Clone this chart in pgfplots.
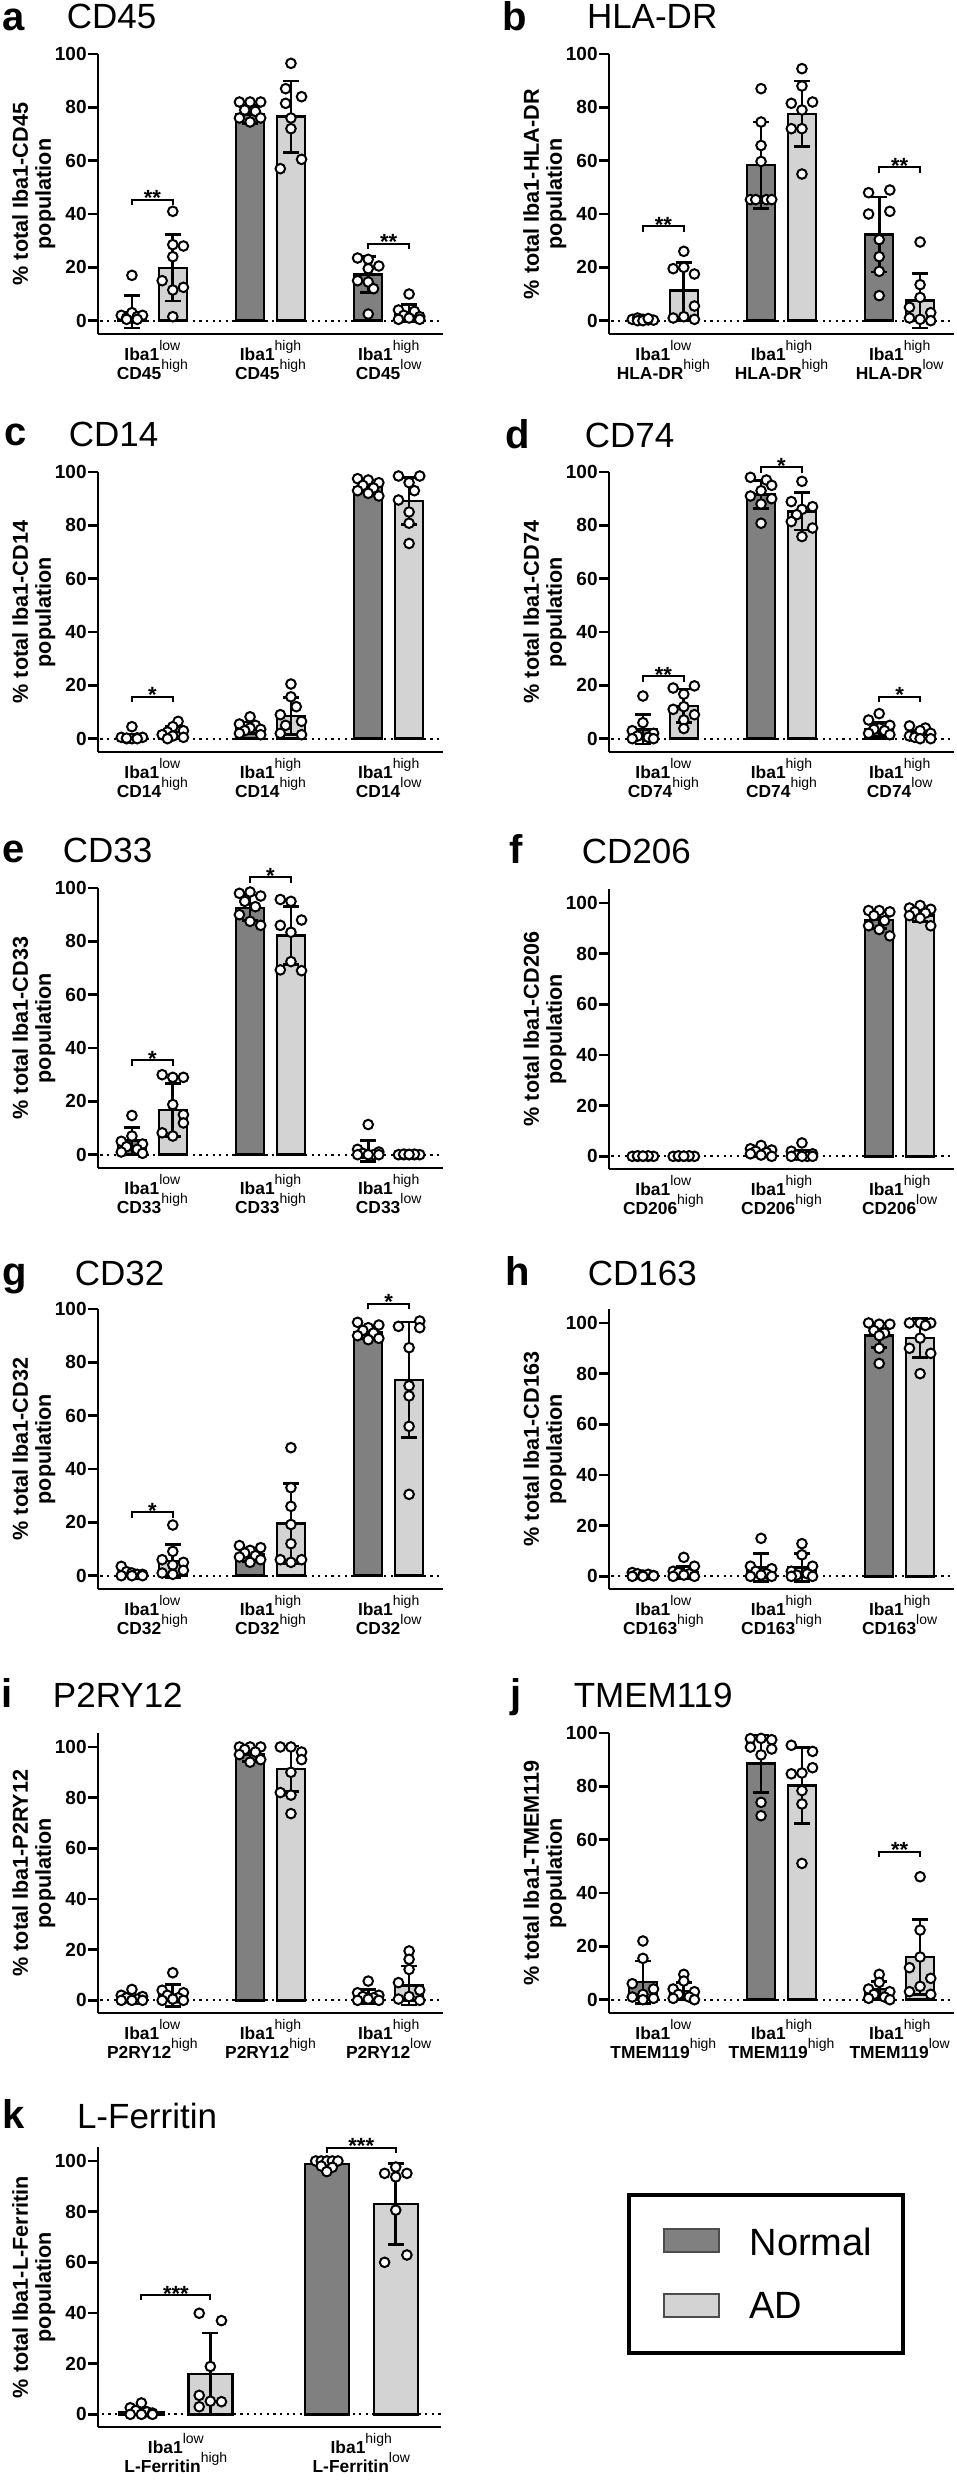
\documentclass[border=0pt]{standalone}
\usepackage{pgfplots}
\pgfplotsset{compat=1.18}
\usepackage{fontspec}
\setmainfont{Liberation Sans}
\definecolor{ngray}{RGB}{128,128,128}
\definecolor{agray}{RGB}{211,211,211}
\newcommand{\fs}[2]{\fontsize{#1}{#2}\selectfont}
\newcommand{\sps}[1]{\raisebox{4.8pt}[0pt][0pt]{\fs{7}{7}\mdseries #1}}
\newcommand{\lab}[3]{Iba1\sps{#1}\\#2\sps{#3}}
\newcommand{\brk}[6]{\draw[line width=0.9pt] (axis cs:#1,#4) -- (axis cs:#1,#3) -- (axis cs:#2,#3) -- (axis cs:#2,#4);
  \node[font=\bfseries\fs{11}{11}, anchor=base, inner sep=0pt, yshift=-3pt] at (axis cs:#6,#3) {#5};}
\newcommand{\zl}[2]{\draw[line width=1.1pt, dash pattern=on 1.1pt off 2.2pt] (axis cs:#1,0) -- (axis cs:#2,0);}
\pgfplotsset{
 panel/.style={
  anchor=south west, scale only axis, width=172.5pt, height=140pt,
  xmin=-0.46, xmax=2.46, ymin=-5, ymax=100, xtick={0,1,2},
  ytick={0,20,40,60,80,100}, clip=false,
  axis lines=left, axis line style={-, line width=1.35pt},
  every tick/.style={black, line width=1.35pt}, xtick style={draw=none},
  tick align=outside, major tick length=5pt,
  /pgf/number format/assume math mode=true,
  yticklabel style={font=\bfseries\fs{9.5}{10}, inner sep=0.5pt},
  xticklabel style={font=\bfseries\fs{8.7}{9.7}, align=center, anchor=north, inner sep=0pt, yshift=-1.5pt},
  ylabel style={font=\bfseries\fs{10.8}{11.5}, align=center, at={(axis description cs:-0.186,0.5)}, anchor=center},
 },
 tall/.style={ymax=105.5},
 nbar/.style={ybar, bar width=0.237, bar shift=0pt, fill=ngray, draw=black, line width=1.2pt},
 abar/.style={nbar, fill=agray},
 pts/.style={only marks, mark=*, mark size=2.4pt, mark options={fill=white, draw=black, line width=1pt}},
 sd/.style={draw=none, mark=none, forget plot, error bars/.cd, y dir=both, y explicit,
   error bar style={line width=1.35pt, draw=black, solid}, error mark=-,
   error mark options={rotate=90, line width=1.35pt, draw=black, solid, mark size=4pt}},
}
\begin{document}
\begin{tikzpicture}
\path[use as bounding box] (0,0) rectangle (478.5pt,-1240pt);
\tikzset{lett/.style={anchor=base west, inner sep=0pt, font=\bfseries\fs{20}{20}},
         ttl/.style={anchor=base west, inner sep=0pt, font=\fs{17.5}{17.5}}}
% ---------------- a
\node[lett] at (1pt,-15pt) {a};
\node[ttl] at (33.2pt,-14pt) {CD45};
\begin{axis}[panel, at={(49pt,-167pt)}, ylabel={\% total Iba1-CD45\\population},
  xticklabels={{\lab{low}{CD45}{high}},{\lab{high}{CD45}{high}},{\lab{high}{CD45}{low}}}]
\zl{-0.44}{2.46}
\addplot[nbar] coordinates {(-0.173,3.3) (0.827,77.3) (1.827,17.3)};
\addplot[abar] coordinates {(0.173,19.8) (1.173,76.5) (2.173,2.9)};
\addplot[pts] coordinates {(-0.173,17) (-0.263,2) (-0.218,1) (-0.173,3) (-0.128,1.5) (-0.083,2) (-0.218,0.5) (-0.128,0.5)
 (0.173,41) (0.173,28.5) (0.263,28) (0.173,24) (0.083,15) (0.263,12.5) (0.173,11.5) (0.173,1.5)
 (0.737,82) (0.827,82) (0.917,82) (0.782,79) (0.872,78.5) (0.737,76) (0.917,76) (0.827,74.5)
 (1.173,96.5) (1.128,87) (1.263,84) (1.128,81.5) (1.173,76) (1.173,72) (1.263,60.5) (1.083,57)
 (1.737,23.5) (1.827,23) (1.917,20.5) (1.827,19.5) (1.737,15) (1.827,14.5) (1.872,12) (1.827,2.5)
 (2.173,10) (2.083,4) (2.218,3.5) (2.128,2) (2.263,1.5) (2.173,1) (2.083,0.5) (2.263,0.5)};
\addplot[sd] coordinates {(-0.173,3.3) +- (0,6.1) (0.827,77.3) +- (0,3.3) (1.827,17.3) +- (0,6.8)
 (0.173,19.8) +- (0,12.4) (1.173,76.5) +- (0,13.4) (2.173,2.9) +- (0,3.1)};
\brk{-0.173}{0.173}{45.4}{43.4}{**}{0}
\brk{1.827}{2.173}{28.9}{26.9}{**}{2}
\end{axis}
% ---------------- b
\node[lett] at (251pt,-15pt) {b};
\node[ttl] at (293.3pt,-14pt) {HLA-DR};
\begin{axis}[panel, at={(304.5pt,-167pt)}, ylabel={\% total Iba1-HLA-DR\\population},
  xticklabels={{\lab{low}{HLA-DR}{high}},{\lab{high}{HLA-DR}{high}},{\lab{high}{HLA-DR}{low}}}]
\zl{-0.44}{2.46}
\addplot[nbar] coordinates {(-0.173,0.5) (0.827,58.3) (1.827,32.3)};
\addplot[abar] coordinates {(0.173,11.3) (1.173,77.6) (2.173,7.5)};
\addplot[pts] coordinates {(-0.263,0.5) (-0.218,1) (-0.173,0.5) (-0.128,0.3) (-0.083,0.2) (-0.218,0) (-0.173,0) (-0.128,0.8)
 (0.173,26) (0.083,19.5) (0.173,20) (0.263,17.5) (0.263,5.5) (0.083,1) (0.173,1.5) (0.263,0.5)
 (0.827,87) (0.827,74.5) (0.827,65.7) (0.827,59.7) (0.737,45.4) (0.782,45.4) (0.872,45.4) (0.917,45.4)
 (1.173,94.5) (1.173,88) (1.083,81.5) (1.263,82) (1.173,79) (1.083,72) (1.173,72) (1.173,55)
 (1.737,48) (1.917,49) (1.917,41) (1.737,40) (1.827,30.4) (1.827,24) (1.827,18.5) (1.827,9.4)
 (2.173,29.5) (2.173,13.5) (2.173,8.7) (2.083,5) (2.263,3) (2.083,1) (2.173,0.5) (2.263,0)};
\addplot[sd] coordinates {(-0.173,0.5) +- (0,0.5) (0.827,58.3) +- (0,16.2) (1.827,32.3) +- (0,14.1)
 (0.173,11.3) +- (0,10.4) (1.173,77.6) +- (0,12.3) (2.173,7.5) +- (0,10.3)};
\brk{-0.173}{0.173}{35.4}{33.4}{**}{0}
\brk{1.827}{2.173}{57.5}{55.5}{**}{2}
\end{axis}
% ---------------- c
\node[lett] at (2pt,-222.5pt) {c};
\node[ttl] at (34.2pt,-223pt) {CD14};
\begin{axis}[panel, at={(49pt,-376pt)}, ylabel={\% total Iba1-CD14\\population},
  xticklabels={{\lab{low}{CD14}{high}},{\lab{high}{CD14}{high}},{\lab{high}{CD14}{low}}}]
\zl{-0.44}{2.46}
\addplot[nbar] coordinates {(-0.173,0.5) (0.827,4.1) (1.827,94.3)};
\addplot[abar] coordinates {(0.173,2.5) (1.173,8.5) (2.173,89.2)};
\addplot[pts] coordinates {(-0.173,4.5) (-0.263,0.5) (-0.218,0) (-0.173,0) (-0.128,0.3) (-0.083,0.5) (-0.218,0.2) (-0.128,0)
 (0.218,6.5) (0.173,4.5) (0.263,3) (0.128,2.5) (0.083,1.5) (0.173,1) (0.263,0.5) (0.128,0)
 (0.827,8.2) (0.737,5.5) (0.872,5) (0.827,4) (0.917,3.5) (0.782,3) (0.737,2) (0.917,1.5)
 (1.173,20.5) (1.173,15.7) (1.218,12) (1.083,9) (1.263,6.5) (1.128,5) (1.083,2) (1.263,1.5)
 (1.737,97.5) (1.827,97) (1.917,96) (1.782,95) (1.872,94) (1.737,93) (1.827,92) (1.917,91)
 (2.083,98.5) (2.263,98.5) (2.173,96) (2.218,93) (2.083,89.5) (2.173,85) (2.173,80.8) (2.173,73.2)};
\addplot[sd] coordinates {(-0.173,0.5) +- (0,1) (0.827,4.1) +- (0,2.2) (1.827,94.3) +- (0,1.6)
 (0.173,2.5) +- (0,2) (1.173,8.5) +- (0,7) (2.173,89.2) +- (0,8.8)};
\brk{-0.173}{0.173}{15.7}{13.7}{*}{0}
\end{axis}
% ---------------- d
\node[lett] at (252.5pt,-224pt) {d};
\node[ttl] at (292.2pt,-223.5pt) {CD74};
\begin{axis}[panel, at={(304.5pt,-376pt)}, ylabel={\% total Iba1-CD74\\population},
  xticklabels={{\lab{low}{CD74}{high}},{\lab{high}{CD74}{high}},{\lab{high}{CD74}{low}}}]
\zl{-0.44}{2.46}
\addplot[nbar] coordinates {(-0.173,3.5) (0.827,91.5) (1.827,3.5)};
\addplot[abar] coordinates {(0.173,12.3) (1.173,85.2) (2.173,1.5)};
\addplot[pts] coordinates {(-0.173,16) (-0.173,6) (-0.263,3) (-0.083,2) (-0.218,1) (-0.128,0.5) (-0.263,0) (-0.083,0)
 (0.263,19.8) (0.083,19) (0.173,16.7) (0.173,12) (0.083,11) (0.263,9) (0.173,7) (0.173,3.8)
 (0.737,98) (0.872,97) (0.917,95) (0.827,93) (0.737,91) (0.917,90) (0.827,88) (0.827,80.8)
 (1.173,96.5) (1.083,88.9) (1.263,87) (1.173,86) (1.128,84) (1.083,81.4) (1.263,79) (1.173,75.8)
 (1.827,9.4) (1.737,7) (1.917,5) (1.827,4) (1.782,3.5) (1.872,3) (1.737,2) (1.917,1.5)
 (2.083,4.8) (2.218,4) (2.173,3) (2.263,2) (2.083,1) (2.128,0.5) (2.173,0) (2.263,0)};
\addplot[sd] coordinates {(-0.173,3.5) +- (0,5.5) (0.827,91.5) +- (0,5.2) (1.827,3.5) +- (0,2.5)
 (0.173,12.3) +- (0,6.3) (1.173,85.2) +- (0,7) (2.173,1.5) +- (0,1.5)};
\brk{-0.173}{0.173}{23.4}{21.4}{**}{0}
\brk{0.827}{1.173}{101.8}{99.8}{*}{1}
\brk{1.827}{2.173}{15.7}{13.7}{*}{2}
\end{axis}
% ---------------- e
\node[lett] at (1pt,-431pt) {e};
\node[ttl] at (31.2pt,-431pt) {CD33};
\begin{axis}[panel, at={(49pt,-584pt)}, ylabel={\% total Iba1-CD33\\population},
  xticklabels={{\lab{low}{CD33}{high}},{\lab{high}{CD33}{high}},{\lab{high}{CD33}{low}}}]
\zl{-0.44}{2.46}
\addplot[nbar] coordinates {(-0.173,5.3) (0.827,92.6) (1.827,1.4)};
\addplot[abar] coordinates {(0.173,16.7) (1.173,82.2) (2.173,0)};
\addplot[pts] coordinates {(-0.173,14.7) (-0.173,7) (-0.263,5) (-0.083,4) (-0.218,3) (-0.128,2) (-0.263,1) (-0.083,0.5)
 (0.083,30) (0.263,29) (0.173,29) (0.173,18.8) (0.263,15) (0.263,11.9) (0.083,8.2) (0.173,7)
 (0.737,98) (0.827,98.5) (0.917,97) (0.782,95) (0.872,93) (0.737,90) (0.827,87.5) (0.917,86)
 (1.083,95.7) (1.173,95) (1.263,88) (1.083,86) (1.173,83.4) (1.173,72.4) (1.083,69.3) (1.263,69)
 (1.827,11.3) (1.737,2) (1.917,1) (1.782,0.5) (1.872,0) (1.827,0) (1.737,0) (1.917,0)
 (2.083,0) (2.128,0) (2.173,0) (2.218,0) (2.263,0) (2.128,0.2) (2.218,0.2) (2.173,0.1)};
\addplot[sd] coordinates {(-0.173,5.3) +- (0,5) (0.827,92.6) +- (0,4.8) (1.827,1.4) +- (0,3.9)
 (0.173,16.7) +- (0,10) (1.173,82.2) +- (0,10.8) (2.173,0) +- (0,0.2)};
\brk{-0.173}{0.173}{35.4}{33.4}{*}{0}
\brk{0.827}{1.173}{104}{102}{*}{1}
\end{axis}
% ---------------- f
\node[lett] at (254.5pt,-431.5pt) {f};
\node[ttl] at (290.7pt,-431.5pt) {CD206};
\begin{axis}[panel, tall, at={(304.5pt,-584.5pt)}, ylabel={\% total Iba1-CD206\\population},
  xticklabels={{\lab{low}{CD206}{high}},{\lab{high}{CD206}{high}},{\lab{high}{CD206}{low}}}]
\zl{-0.44}{2.46}
\addplot[nbar] coordinates {(-0.173,0) (0.827,2.1) (1.827,93.2)};
\addplot[abar] coordinates {(0.173,0) (1.173,1) (2.173,95.1)};
\addplot[pts] coordinates {(-0.263,0) (-0.218,0) (-0.173,0) (-0.128,0) (-0.083,0) (-0.218,0.2) (-0.128,0.2) (-0.173,0.1)
 (0.083,0) (0.128,0) (0.173,0) (0.218,0) (0.263,0) (0.128,0.2) (0.218,0.2) (0.173,0.1)
 (0.827,4.3) (0.737,3) (0.917,2.5) (0.782,2) (0.872,1.5) (0.737,1) (0.827,0.5) (0.917,0)
 (1.173,5.3) (1.083,2) (1.263,1) (1.128,0.5) (1.218,0) (1.173,0) (1.083,0) (1.263,0)
 (1.737,97) (1.827,97) (1.917,96.5) (1.782,95) (1.872,93) (1.737,91) (1.827,89.5) (1.917,87)
 (2.173,99) (2.083,98) (2.263,97.5) (2.128,96.5) (2.218,96) (2.083,95) (2.173,94) (2.263,91)};
\addplot[sd] coordinates {(-0.173,0) +- (0,0.2) (0.827,2.1) +- (0,1) (1.827,93.2) +- (0,3.4)
 (0.173,0) +- (0,0.2) (1.173,1) +- (0,1.5) (2.173,95.1) +- (0,2.5)};
\end{axis}
% ---------------- g
\node[lett] at (1pt,-642.5pt) {g};
\node[ttl] at (37.2pt,-642.5pt) {CD32};
\begin{axis}[panel, at={(49pt,-794.5pt)}, ylabel={\% total Iba1-CD32\\population},
  xticklabels={{\lab{low}{CD32}{high}},{\lab{high}{CD32}{high}},{\lab{high}{CD32}{low}}}]
\zl{-0.44}{2.46}
\addplot[nbar] coordinates {(-0.173,0.5) (0.827,7.9) (1.827,91.2)};
\addplot[abar] coordinates {(0.173,5.4) (1.173,19.6) (2.173,73.4)};
\addplot[pts] coordinates {(-0.263,3.5) (-0.218,1.5) (-0.173,1) (-0.128,0.5) (-0.083,0.5) (-0.263,0) (-0.173,0) (-0.083,0)
 (0.173,19) (0.173,9.1) (0.083,6) (0.263,5) (0.173,4) (0.263,2) (0.083,1) (0.173,0.5)
 (0.737,11.3) (0.917,10.5) (0.827,9.5) (0.782,8.5) (0.872,7.5) (0.737,7) (0.917,6) (0.827,5)
 (1.173,48) (1.173,33) (1.173,26) (1.173,19.2) (1.173,12) (1.083,6) (1.263,6) (1.173,5)
 (1.737,95) (1.917,94) (1.827,93) (1.782,92) (1.872,91) (1.737,90) (1.917,89) (1.827,88.5)
 (2.263,95.5) (2.263,93) (2.083,93.5) (2.173,85.5) (2.173,71.2) (2.173,67.4) (2.173,56) (2.173,30.5)};
\addplot[sd] coordinates {(-0.173,0.5) +- (0,1) (0.827,7.9) +- (0,2.5) (1.827,91.2) +- (0,2.3)
 (0.173,5.4) +- (0,6.3) (1.173,19.6) +- (0,15.1) (2.173,73.4) +- (0,21.7)};
\brk{-0.173}{0.173}{23.8}{21.8}{*}{0}
\brk{1.827}{2.173}{101.9}{99.9}{*}{2}
\end{axis}
% ---------------- h
\node[lett] at (252.5pt,-642.5pt) {h};
\node[ttl] at (293.7pt,-642.5pt) {CD163};
\begin{axis}[panel, tall, at={(304.5pt,-794.5pt)}, ylabel={\% total Iba1-CD163\\population},
  xticklabels={{\lab{low}{CD163}{high}},{\lab{high}{CD163}{high}},{\lab{high}{CD163}{low}}}]
\zl{-0.44}{2.46}
\addplot[nbar] coordinates {(-0.173,0.5) (0.827,3.5) (1.827,95.1)};
\addplot[abar] coordinates {(0.173,1.5) (1.173,3.5) (2.173,94.1)};
\addplot[pts] coordinates {(-0.263,1.5) (-0.218,1) (-0.173,0.5) (-0.128,0.8) (-0.083,0.3) (-0.263,0) (-0.173,0) (-0.083,0.2)
 (0.173,7.5) (0.263,4) (0.083,2) (0.128,1.5) (0.218,1) (0.173,0.5) (0.083,0) (0.263,0)
 (0.827,15) (0.737,4) (0.917,3) (0.782,2) (0.872,1) (0.827,0.5) (0.737,0) (0.917,0)
 (1.173,12.9) (1.173,8.5) (1.263,4) (1.083,2) (1.218,1) (1.128,0.5) (1.263,0) (1.083,0)
 (1.737,100) (1.827,99.5) (1.917,99.5) (1.782,97) (1.872,96) (1.827,95) (1.827,90) (1.827,84)
 (2.083,100) (2.173,100) (2.263,100) (2.218,99) (2.173,94) (2.083,90) (2.263,88) (2.173,80)};
\addplot[sd] coordinates {(-0.173,0.5) +- (0,0.7) (0.827,3.5) +- (0,5.4) (1.827,95.1) +- (0,4.9)
 (0.173,1.5) +- (0,2.5) (1.173,3.5) +- (0,5.4) (2.173,94.1) +- (0,7.7)};
\end{axis}
% ---------------- i
\node[lett] at (0.5pt,-853.5pt) {i};
\node[ttl] at (26.3pt,-853.5pt) {P2RY12};
\begin{axis}[panel, tall, at={(49pt,-1006.5pt)}, ylabel={\% total Iba1-P2RY12\\population},
  xticklabels={{\lab{low}{P2RY12}{high}},{\lab{high}{P2RY12}{high}},{\lab{high}{P2RY12}{low}}}]
\zl{-0.44}{2.46}
\addplot[nbar] coordinates {(-0.173,0.5) (0.827,97.1) (1.827,1.5)};
\addplot[abar] coordinates {(0.173,2) (1.173,91.4) (2.173,5.9)};
\addplot[pts] coordinates {(-0.173,4.3) (-0.263,2) (-0.083,1.5) (-0.218,1) (-0.128,0.5) (-0.263,0) (-0.173,0) (-0.083,0)
 (0.173,10.9) (0.083,4) (0.263,3) (0.128,2) (0.218,1) (0.173,0.5) (0.083,0) (0.263,0)
 (0.737,100) (0.827,100) (0.917,100) (0.782,99) (0.872,98) (0.737,97) (0.917,95) (0.827,94)
 (1.083,100) (1.173,100) (1.263,98) (1.263,95) (1.173,90) (1.083,82) (1.173,81) (1.173,73.7)
 (1.827,7.6) (1.737,3) (1.917,2) (1.782,1.5) (1.872,1) (1.827,0.5) (1.737,0) (1.917,0)
 (2.173,19.5) (2.173,16.2) (2.173,12.2) (2.083,7) (2.263,4) (2.173,1.5) (2.083,0.5) (2.263,0)};
\addplot[sd] coordinates {(-0.173,0.5) +- (0,1) (0.827,97.1) +- (0,2.8) (1.827,1.5) +- (0,2.8)
 (0.173,2) +- (0,4.3) (1.173,91.4) +- (0,9) (2.173,5.9) +- (0,7.7)};
\end{axis}
% ---------------- j
\node[lett] at (255pt,-853.5pt) {j};
\node[ttl] at (286.7pt,-853.5pt) {TMEM119};
\begin{axis}[panel, at={(304.5pt,-1006.5pt)}, ylabel={\% total Iba1-TMEM119\\population},
  xticklabels={{\lab{low}{TMEM119}{high}},{\lab{high}{TMEM119}{high}},{\lab{high}{TMEM119}{low}}}]
\zl{-0.44}{2.46}
\addplot[nbar] coordinates {(-0.173,6.6) (0.827,88.5) (1.827,4.1)};
\addplot[abar] coordinates {(0.173,3.3) (1.173,80.3) (2.173,16)};
\addplot[pts] coordinates {(-0.173,22) (-0.173,15.5) (-0.263,6) (-0.083,4) (-0.173,2) (-0.263,1) (-0.083,0.5) (-0.173,0)
 (0.173,9.5) (0.173,7) (0.083,4) (0.263,3) (0.128,2) (0.218,1) (0.083,0.5) (0.263,0)
 (0.737,97.9) (0.827,98) (0.917,97.5) (0.737,94.7) (0.917,94) (0.827,91.8) (0.827,74) (0.827,69)
 (1.083,95.4) (1.263,93.1) (1.083,84.7) (1.263,87) (1.173,85) (1.173,78.4) (1.173,73.4) (1.173,51.1)
 (1.827,9.5) (1.827,6.5) (1.737,4) (1.917,3) (1.782,2) (1.872,1) (1.737,0.5) (1.917,0)
 (2.173,46.1) (2.173,26.1) (2.173,16) (2.083,12) (2.263,8) (2.173,5) (2.083,3) (2.263,2)};
\addplot[sd] coordinates {(-0.173,6.6) +- (0,7.9) (0.827,88.5) +- (0,10.8) (1.827,4.1) +- (0,2.8)
 (0.173,3.3) +- (0,3.1) (1.173,80.3) +- (0,14.2) (2.173,16) +- (0,14.1)};
\brk{1.827}{2.173}{55.5}{53.5}{**}{2}
\end{axis}
% ---------------- k
\node[lett] at (1pt,-1064pt) {k};
\node[ttl] at (38.3pt,-1064pt) {L-Ferritin};
\begin{axis}[panel, tall, width=171.5pt, xmin=-0.42, xmax=1.43, xtick={0,1},
  ylabel style={at={(axis description cs:-0.187,0.5)}},
  at={(49pt,-1213.5pt)}, ylabel={\% total Iba1-L-Ferritin\\population},
  xticklabels={{\lab{low}{L-Ferritin}{high}},{\lab{high}{L-Ferritin}{low}}}]
\zl{-0.40}{1.43}
\addplot[nbar] coordinates {(-0.186,1) (0.814,98.7)};
\addplot[abar] coordinates {(0.186,16) (1.186,83)};
\addplot[pts] coordinates {(-0.186,4.5) (-0.246,2.6) (-0.216,1.5) (-0.156,1) (-0.126,0.5) (-0.246,0) (-0.186,0) (-0.126,0)
 (0.126,39.9) (0.246,37) (0.186,18.9) (0.126,7.5) (0.186,5.2) (0.246,5) (0.126,3)
 (0.754,100) (0.784,100) (0.814,100) (0.844,100) (0.874,100) (0.784,98) (0.844,97.5) (0.814,95.8)
 (1.186,97.6) (1.126,95.1) (1.246,95.1) (1.186,93.7) (1.186,80.6) (1.246,62.9) (1.126,60)};
\addplot[sd] coordinates {(-0.186,1) +- (0,1.2) (0.814,98.7) +- (0,1.5)
 (0.186,16) +- (0,16.1) (1.186,83) +- (0,15.9)};
\brk{-0.186}{0.186}{47.1}{45.1}{***}{0}
\brk{0.814}{1.186}{105.2}{103.2}{***}{1}
\end{axis}
% ---------------- legend
\draw[line width=2pt] (314.5pt,-1097.5pt) rectangle (451.5pt,-1176.5pt);
\draw[fill=ngray, draw=black!70, line width=0.6pt] (332pt,-1114.5pt) rectangle (359.5pt,-1126pt);
\draw[fill=agray, draw=black!70, line width=0.6pt] (332pt,-1147pt) rectangle (359.5pt,-1158.5pt);
\node[anchor=base west, inner sep=0pt, font=\fs{19}{19}] at (374.6pt,-1127.5pt) {Normal};
\node[anchor=base west, inner sep=0pt, font=\fs{19}{19}] at (374.6pt,-1159pt) {AD};
\end{tikzpicture}
\end{document}
